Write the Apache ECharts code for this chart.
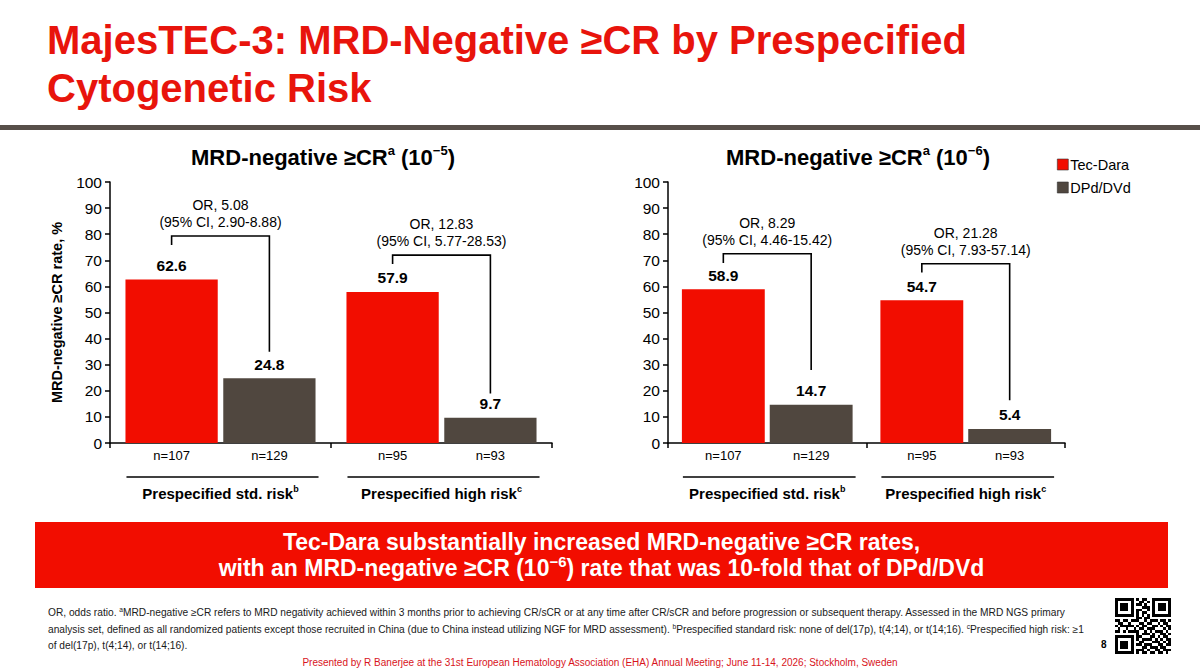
<!DOCTYPE html>
<html>
<head>
<meta charset="utf-8">
<script src="https://cdn.jsdelivr.net/npm/echarts@6/dist/echarts.min.js"></script>
<style>
html, body { margin: 0; padding: 0; width: 1200px; height: 670px; background: #fff; overflow: hidden;
  font-family: "Liberation Sans", Arial, sans-serif; }
#chart { position: absolute; left: 0; top: 0; width: 1200px; height: 670px; }
#title { position: absolute; left: 47px; top: 16px; color: #e8140c; font-weight: bold; font-size: 40px; line-height: 48px; white-space: nowrap; }
#rule { position: absolute; left: 0; top: 125px; width: 1200px; height: 5px; background: #574f49; }
#banner { position: absolute; left: 35px; top: 522px; width: 1133px; height: 66px; background: #f20d00; color: #fff;
  font-weight: bold; font-size: 23px; line-height: 26px; text-align: center; display: flex; flex-direction: column; justify-content: center; }
#notes { position: absolute; left: 48px; top: 605px; font-size: 10.2px; line-height: 16.5px; color: #1a1a1a; white-space: nowrap; }
#footer { position: absolute; left: 0; top: 657px; width: 1200px; text-align: center; color: #d8141c; font-size: 10px; }
#page { position: absolute; left: 1101px; top: 639px; font-size: 10px; font-weight: bold; }
#qr { position: absolute; left: 1115px; top: 598px; background: #fff; }
sup { font-size: 65%; line-height: 0; vertical-align: super; }
</style>
</head>
<body>
<div id="chart"></div>
<div id="title">MajesTEC-3: MRD-Negative ≥CR by Prespecified<br>Cytogenetic Risk</div>
<div id="rule"></div>
<div id="banner"><div>Tec-Dara substantially increased MRD-negative ≥CR rates,</div><div>with an MRD-negative ≥CR (10<sup>−6</sup>) rate that was 10-fold that of DPd/DVd</div></div>
<div id="notes">OR, odds ratio. <sup>a</sup>MRD-negative ≥CR refers to MRD negativity achieved within 3 months prior to achieving CR/sCR or at any time after CR/sCR and before progression or subsequent therapy. Assessed in the MRD NGS primary<br>analysis set, defined as all randomized patients except those recruited in China (due to China instead utilizing NGF for MRD assessment). <sup>b</sup>Prespecified standard risk: none of del(17p), t(4;14), or t(14;16). <sup>c</sup>Prespecified high risk: ≥1<br>of del(17p), t(4;14), or t(14;16).</div>
<div id="page">8</div>
<svg id="qr" width="56" height="56" viewBox="0 0 21 21" shape-rendering="crispEdges"></svg>
<div id="footer">Presented by R Banerjee at the 31st European Hematology Association (EHA) Annual Meeting; June 11-14, 2026; Stockholm, Sweden</div>
<script>
// categories and values
var groups = ['Prespecified std. risk', 'Prespecified high risk'];
var groupSup = ['b', 'c'];
var tecDara5 = [62.6, 57.9];
var dpd5 = [24.8, 9.7];
var tecDara6 = [58.9, 54.7];
var dpd6 = [14.7, 5.4];
var nTec = [107, 95];
var nDpd = [129, 93];
var or5 = ['5.08', '12.83'];
var ci5 = ['2.90-8.88', '5.77-28.53'];
var or6 = ['8.29', '21.28'];
var ci6 = ['4.46-15.42', '7.93-57.14'];

var FONT = '"Liberation Sans", Arial, sans-serif';
var RED = '#f20d00';
var DARK = '#50473f';
var CAT_GAP = 0.14, BAR_GAP = 0.06;

// panel layout; bracket levels are in axis units
var panels = [
  { left: 110, width: 442, cx: 323, title: '5', tec: tecDara5, dpd: dpd5, or: or5, ci: ci5,
    brackets: [{ top: 79.3, l: 75.9, r: 35 }, { top: 72, l: 68.6, r: 19 }] },
  { left: 668, width: 397, cx: 858, title: '6', tec: tecDara6, dpd: dpd6, or: or6, ci: ci6,
    brackets: [{ top: 72.5, l: 69, r: 28 }, { top: 68.7, l: 65.3, r: 16.4 }] }
];

var txt = function () {
  return { fontFamily: FONT, fill: '#000', align: 'center', verticalAlign: 'middle',
           textAlign: 'center', textVerticalAlign: 'middle' };
};

function annot(p) {
  return function (params, api) {
    var i = params.dataIndex;
    var band = api.size([1, 0])[0];
    var w = band * (1 - CAT_GAP) / (2 + BAR_GAP);
    var off = w * (1 + BAR_GAP) / 2;
    var base = api.coord([i, 0]);
    var xa = base[0] - off, xb = base[0] + off;
    var b = p.brackets[i];
    var yTop = api.coord([i, b.top])[1];
    var yL = api.coord([i, b.l])[1];
    var yR = api.coord([i, b.r])[1];
    var orStyle = Object.assign(txt(), { text: 'OR, ' + p.or[i] + '\n(95% CI, ' + p.ci[i] + ')',
      fontSize: 14, lineHeight: 17, verticalAlign: 'bottom', textVerticalAlign: 'bottom' });
    return {
      type: 'group',
      children: [
        { type: 'polyline', shape: { points: [[xa, yL], [xa, yTop], [xb, yTop], [xb, yR]] },
          style: { stroke: '#000', lineWidth: 1.6, fill: null } },
        { type: 'text', x: (xa + xb) / 2, y: yTop - 5.5, style: orStyle },
        { type: 'text', x: xa, y: base[1] + 12, style: Object.assign(txt(), { text: 'n=' + nTec[i], fontSize: 13 }) },
        { type: 'text', x: xb, y: base[1] + 12, style: Object.assign(txt(), { text: 'n=' + nDpd[i], fontSize: 13 }) },
        { type: 'line', shape: { x1: xa - w / 2 + 1, y1: base[1] + 34, x2: xb + w / 2 + 3, y2: base[1] + 34 },
          style: { stroke: '#000', lineWidth: 1.3 } }
      ]
    };
  };
}

var grids = [], xAxes = [], yAxes = [], series = [], graphics = [];
panels.forEach(function (p, k) {
  grids.push({ left: p.left, width: p.width, top: 182, height: 261 });
  xAxes.push({
    type: 'category', gridIndex: k, data: groups,
    axisLine: { lineStyle: { color: '#000', width: 1.5 } },
    axisTick: { show: true, length: 5, lineStyle: { color: '#000', width: 1.5 } },
    axisLabel: {
      margin: 41, interval: 0,
      formatter: function (v, i) { return '{b|' + v + '}{s|' + groupSup[i] + '}'; },
      rich: {
        b: { fontFamily: FONT, fontWeight: 'bold', fontSize: 15, color: '#000', lineHeight: 18 },
        s: { fontFamily: FONT, fontWeight: 'bold', fontSize: 9, color: '#000', lineHeight: 10, verticalAlign: 'top' }
      }
    }
  });
  yAxes.push({
    type: 'value', gridIndex: k, min: 0, max: 100, interval: 10,
    name: k === 0 ? 'MRD-negative ≥CR rate, %' : '',
    nameLocation: 'middle', nameGap: 46,
    nameTextStyle: { fontFamily: FONT, fontWeight: 'bold', fontSize: 14.5, color: '#000' },
    axisLine: { show: true, lineStyle: { color: '#000', width: 1.5 } },
    axisTick: { show: true, length: 5, lineStyle: { color: '#000', width: 1.5 } },
    axisLabel: { fontFamily: FONT, fontSize: 15.5, color: '#000', margin: 8 },
    splitLine: { show: false }
  });
  var barLabel = { show: true, position: 'top', distance: 6, fontFamily: FONT, fontWeight: 'bold', fontSize: 15.5, color: '#000' };
  series.push({ type: 'bar', name: 'Tec-Dara', xAxisIndex: k, yAxisIndex: k, data: p.tec,
    itemStyle: { color: RED }, label: barLabel, barGap: '6%', barCategoryGap: '14%' });
  series.push({ type: 'bar', name: 'DPd/DVd', xAxisIndex: k, yAxisIndex: k, data: p.dpd,
    itemStyle: { color: DARK }, label: barLabel, barGap: '6%', barCategoryGap: '14%' });
  series.push({ type: 'custom', name: 'or' + k, xAxisIndex: k, yAxisIndex: k, clip: false, z: 5,
    data: groups.map(function (g, i) { return [i, p.tec[i]]; }), renderItem: annot(p), silent: true });
  graphics.push({
    type: 'text', x: p.cx, y: 157,
    style: {
      text: '{b|MRD-negative ≥CR}{s|a}{b| (10}{s|−' + p.title + '}{b|)}',
      align: 'center', verticalAlign: 'middle', textAlign: 'center', textVerticalAlign: 'middle',
      rich: {
        b: { fontFamily: FONT, fontWeight: 'bold', fontSize: 22, fill: '#000', lineHeight: 26 },
        s: { fontFamily: FONT, fontWeight: 'bold', fontSize: 13, fill: '#000', lineHeight: 14, verticalAlign: 'top' }
      }
    }
  });
});

var chart = echarts.init(document.getElementById('chart'), null, { renderer: 'svg' });
chart.setOption({
  animation: false,
  backgroundColor: 'transparent',
  grid: grids,
  xAxis: xAxes,
  yAxis: yAxes,
  series: series,
  graphic: graphics,
  legend: {
    data: ['Tec-Dara', 'DPd/DVd'], orient: 'vertical', left: 1052, top: 152,
    icon: 'rect', itemWidth: 11, itemHeight: 11, itemGap: 8,
    itemStyle: { borderColor: '#333', borderWidth: 0.6 },
    textStyle: { fontFamily: FONT, fontSize: 14.5, color: '#000', padding: [0, 0, 0, -3] }
  }
});

// QR-like decoration
var qrRows = [
  '111111101011001111111',
  '100000100110101000001',
  '101110101101001011101',
  '101110100011101011101',
  '101110101100101011101',
  '100000101011001000001',
  '111111101010101111111',
  '000000001101100000000',
  '110110111001011101101',
  '011001000110110010110',
  '101111101011001101011',
  '010010010110111000101',
  '110101111001010111010',
  '000000001011101001101',
  '111111101100011010110',
  '100000101011110101011',
  '101110100110001110101',
  '101110101101110011011',
  '101110100011011101100',
  '100000101110100110111',
  '111111101011011011010'
];
var svg = '';
qrRows.forEach(function (row, r) {
  for (var c = 0; c < row.length; c++) {
    if (row[c] === '1') svg += '<rect x="' + c + '" y="' + r + '" width="1" height="1" fill="#000"/>';
  }
});
document.getElementById('qr').innerHTML = svg;
</script>
</body>
</html>
